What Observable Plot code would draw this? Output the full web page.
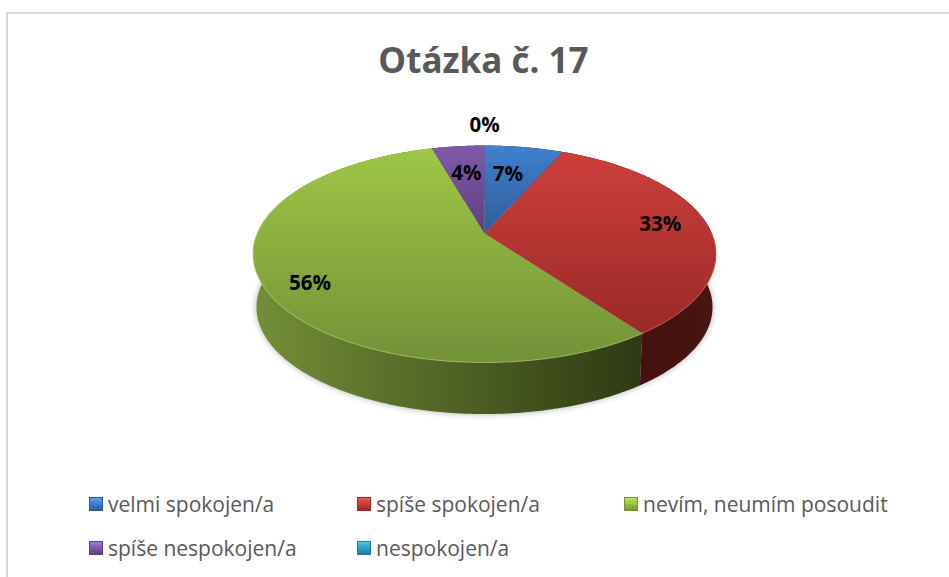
<!DOCTYPE html>
<html lang="cs">
<head>
<meta charset="utf-8">
<script src="https://cdn.jsdelivr.net/npm/d3@7"></script>
<script src="https://cdn.jsdelivr.net/npm/@observablehq/plot@0.6"></script>
<style>
  html, body { margin: 0; padding: 0; background: #fff; width: 949px; height: 577px; overflow: hidden; }
  #frame { position: absolute; left: 6px; top: 12px; width: 943px; height: 565px; border-top: 2px solid #d9d9d9; border-left: 2px solid #d9d9d9; box-sizing: border-box; }
  #title { position: absolute; left: 0; top: 35px; width: 967px; text-align: center; font: 700 35px/50px "Open Sans", sans-serif; color: #595959; }
  #chart { position: absolute; left: 0; top: 92px; }
  .item { position: absolute; font: 400 21px/26px "Open Sans", sans-serif; color: #595959; white-space: nowrap; }
  .sw { position: absolute; width: 14px; height: 14px; box-sizing: border-box; }
</style>
</head>
<body>
<div id="frame"></div>
<div id="title">Otázka č. 17</div>
<div id="chart"></div>
<div id="legend"></div>
<script>
// ---- data ----
const categories = ["velmi spokojen/a", "spíše spokojen/a", "nevím, neumím posoudit", "spíše nespokojen/a", "nespokojen/a"];
const values = [6.6, 33.4, 55.6, 4.4, 0];
const topLight = ["#3f80cd", "#cd3f3b", "#9ec645", "#8159ab", "#2fa3c4"];
const topDark = ["#2f5d99", "#9a2a28", "#739138", "#5f3f80", "#1f7f99"];
const sideLeft = ["#2a4f80", "#3a0f0d", "#738f38", "#4a2f66", "#1a6a80"];
const sideRight = ["#1a3050", "#4a1412", "#2e3912", "#2a1a3a", "#0f4050"];
const rimColor = ["#5f98dc", "#d9605a", "#b4d76a", "#9a78c0", "#50b8d8"];
const swatchGlow = ["#5fa0ea", "#e85a55", "#bde05a", "#a37cd0", "#4fc4e4"];
const labelRadius = [0.64, 0.79, 0.83, 0.65, 1.29];
const labelTurn = [-1.5, 0, -6, 0, 0];
const legendColumn = [89, 357, 624, 89, 357];
const legendRow = [504, 504, 504, 548, 548];

// ---- pie geometry: a tilted disc in perspective ----
const svgTop = 92, svgHeight = 372, svgWidth = 949;
const cx = 484, cy = 233, rx = 227.3, ry = 104.6;
const perspective = 0.189, shrink = 0.985, thickness = 53.5 / ry;
const total = d3.sum(values);
const cuts = d3.cumsum(values).map(v => v / total * 2 * Math.PI);
const slices = values.map((v, i) => ({i, a0: i ? cuts[i - 1] : 0, a1: cuts[i]}));

function project(theta, r, lower) {
  const X = r * Math.sin(theta), Y = r * Math.cos(theta);
  const w = 1 + perspective * Y, s = lower ? shrink : 1;
  return {x: s * X / w, y: s * Y / w - (lower ? thickness : 0)};
}
function arc(a0, a1, lower) {
  const n = Math.max(2, Math.ceil((a1 - a0) / 0.01));
  return d3.range(n + 1).map(k => project(a0 + (a1 - a0) * k / n, 1, lower));
}
const topFace = s => [{x: 0, y: 0}, ...arc(s.a0, s.a1, false)];
const wall = s => [...arc(s.a0, s.a1, false), ...arc(s.a0, s.a1, true).reverse()];
const lineOpts = fill => ({x: "x", y: "y", fill, stroke: "none", curve: "linear-closed"});

const drawn = slices.filter(s => s.a1 > s.a0);
const labels = slices.map(s => {
  const p = project((s.a0 + s.a1) / 2 + labelTurn[s.i] * Math.PI / 180, labelRadius[s.i], false);
  return {...p, text: Math.round(values[s.i]) + "%"};
});
// the lit bevel runs only along the front of the rim
const frontRim = s => arc(Math.max(s.a0, Math.PI / 2), Math.min(s.a1, 1.62 * Math.PI), false);

const plot = Plot.plot({
  width: svgWidth, height: svgHeight,
  margin: 0,
  x: {domain: [-1, 1], range: [cx - rx, cx + rx], axis: null},
  y: {domain: [-1, 1], range: [cy + ry - svgTop, cy - ry - svgTop], axis: null},
  marks: [
    // soft shadow under the disc
    Plot.line(arc(0, 2 * Math.PI, true), {x: "x", y: "y", fill: "#000", fillOpacity: 0.32, stroke: "none", curve: "linear-closed", imageFilter: "blur(3px)"}),
    ...drawn.map(s => Plot.line(wall(s), lineOpts(`url(#side${s.i})`))),
    ...drawn.map(s => Plot.line(topFace(s), lineOpts(`url(#face${s.i})`))),
    ...drawn.filter(s => s.a1 > Math.PI / 2 && s.a0 < 1.62 * Math.PI).map(s => Plot.line(frontRim(s), {x: "x", y: "y", stroke: rimColor[s.i], strokeWidth: 1.2, strokeOpacity: 0.5})),
    Plot.text(labels, {x: "x", y: "y", text: "text", fontSize: 20.5, fontWeight: 700, fontFamily: "Open Sans, sans-serif", fill: "#000"})
  ]
});

// colour gradients used by the faces and walls
const defs = d3.select(plot).insert("defs", ":first-child");
function gradient(id, horizontal, stops) {
  const g = defs.append("linearGradient").attr("id", id)
    .attr("x1", 0).attr("y1", 0).attr("x2", horizontal ? 1 : 0).attr("y2", horizontal ? 0 : 1);
  stops.forEach(([o, c]) => g.append("stop").attr("offset", o).attr("stop-color", c));
}
slices.forEach(s => {
  gradient(`face${s.i}`, false, [[0, topLight[s.i]], [1, topDark[s.i]]]);
  gradient(`side${s.i}`, true, [[0, sideLeft[s.i]], [1, sideRight[s.i]]]);
});
document.getElementById("chart").append(plot);

// legend
const legend = document.getElementById("legend");
categories.forEach((name, i) => {
  const sw = document.createElement("div");
  sw.className = "sw";
  sw.style.left = legendColumn[i] + "px";
  sw.style.top = (legendRow[i] - 7) + "px";
  sw.style.background = `linear-gradient(${swatchGlow[i]}, ${topLight[i]} 45%, ${topDark[i]})`;
  sw.style.border = `1px solid ${topDark[i]}`;
  const t = document.createElement("div");
  t.className = "item";
  t.textContent = name;
  t.style.left = (legendColumn[i] + 19) + "px";
  t.style.top = (legendRow[i] - 13) + "px";
  legend.append(sw, t);
});
</script>
</body>
</html>
